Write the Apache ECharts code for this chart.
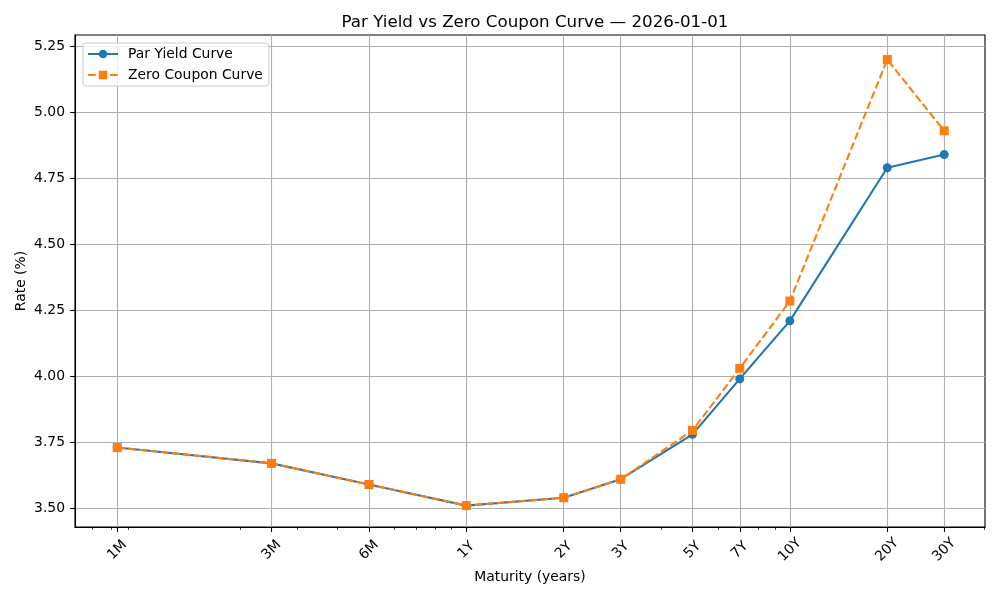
<!DOCTYPE html>
<html>
<head>
<meta charset="utf-8">
<script src="https://cdn.jsdelivr.net/npm/echarts@6/dist/echarts.min.js"></script>
<style>
  html, body { margin: 0; padding: 0; background: #fff; }
  #chart { width: 1000px; height: 600px; }
</style>
</head>
<body>
<div id="chart"></div>
<script>
// maturities in years and their tick labels
var maturities = [1 / 12, 0.25, 0.5, 1, 2, 3, 5, 7, 10, 20, 30];
var tickLabels = ['1M', '3M', '6M', '1Y', '2Y', '3Y', '5Y', '7Y', '10Y', '20Y', '30Y'];
var minorTicks = [0.07, 0.08, 0.09, 0.2, 0.3, 0.4, 0.6, 0.7, 0.8, 0.9, 4, 6, 8, 9, 40];
var yTicks = [3.5, 3.75, 4.0, 4.25, 4.5, 4.75, 5.0, 5.25];

var parYield = [3.73, 3.67, 3.59, 3.51, 3.54, 3.61, 3.78, 3.99, 4.21, 4.79, 4.84];
var zeroCoupon = [3.73, 3.67, 3.59, 3.51, 3.54, 3.61, 3.795, 4.03, 4.285, 5.20, 4.93];

var FONT = 'DejaVu Sans';
var xMin = 0.0617, xMax = 40.1;

function pairs(vals) {
    return maturities.map(function (m, i) { return [m, vals[i]]; });
}

function matLabel(v) {
    for (var i = 0; i < maturities.length; i++) {
        if (Math.abs(maturities[i] - v) / maturities[i] < 1e-6) return tickLabels[i];
    }
    return '';
}

var chartDom = document.getElementById('chart');
var myChart = echarts.init(chartDom, null, { renderer: 'canvas' });
var option = {
    animation: false,
    backgroundColor: '#fff',
    title: {
        text: 'Par Yield vs Zero Coupon Curve \u2014 2026-01-01',
        left: 530,
        top: 9,
        textAlign: 'center',
        textStyle: { fontFamily: FONT, fontSize: 16.7, fontWeight: 'normal', color: '#000' }
    },
    legend: {
        orient: 'vertical',
        left: 83,
        top: 43,
        padding: [4, 6, 4, 4],
        itemWidth: 30,
        itemHeight: 10.6,
        itemGap: 7,
        backgroundColor: 'rgba(255,255,255,0.8)',
        borderColor: '#cccccc',
        borderWidth: 1,
        borderRadius: 3,
        textStyle: { fontFamily: FONT, fontSize: 13.9, color: '#000', padding: [0, 0, 0, 5] },
        data: ['Par Yield Curve', 'Zero Coupon Curve']
    },
    grid: {
        left: 75, right: 15, top: 35, bottom: 73,
        show: true, borderColor: '#000', borderWidth: 1.1,
        containLabel: false
    },
    xAxis: [{
        type: 'log',
        logBase: 10,
        min: xMin,
        max: xMax,
        position: 'bottom',
        name: 'Maturity (years)',
        nameLocation: 'middle',
        nameGap: 43,
        nameMoveOverlap: false,
        nameTextStyle: { fontFamily: FONT, fontSize: 13.9, color: '#000' },
        axisLine: { show: true, lineStyle: { color: '#000', width: 1.1 } },
        axisTick: { show: true, length: 4.9, customValues: maturities, lineStyle: { color: '#000', width: 1.1 } },
        axisLabel: {
            customValues: maturities,
            rotate: 45,
            align: 'center',
            verticalAlign: 'middle',
            margin: 23,
            fontFamily: FONT, fontSize: 13.9, color: '#000',
            formatter: function (v) { return matLabel(v); }
        },
        splitLine: { show: true, lineStyle: { color: '#b0b0b0', width: 1.1 } },
        minorTick: { show: false },
        minorSplitLine: { show: false }
    }, {
        type: 'log',
        logBase: 10,
        min: xMin,
        max: xMax,
        position: 'bottom',
        offset: 0,
        axisLine: { show: false },
        axisTick: { show: true, length: 2.8, customValues: minorTicks, lineStyle: { color: '#000', width: 0.8 } },
        axisLabel: { show: false },
        splitLine: { show: false }
    }],
    yAxis: {
        type: 'value',
        min: 3.429,
        max: 5.293,
        name: 'Rate (%)',
        nameLocation: 'middle',
        nameGap: 47,
        nameMoveOverlap: false,
        nameRotate: 90,
        nameTextStyle: { fontFamily: FONT, fontSize: 13.9, color: '#000' },
        axisLine: { show: true, lineStyle: { color: '#000', width: 1.1 } },
        axisTick: { show: true, length: 4.9, customValues: yTicks, lineStyle: { color: '#000', width: 1.1 } },
        axisLabel: {
            customValues: yTicks,
            margin: 10,
            fontFamily: FONT, fontSize: 13.9, color: '#000',
            formatter: function (v) { return v.toFixed(2); }
        },
        splitLine: { show: true, lineStyle: { color: '#b0b0b0', width: 1.1 } }
    },
    series: [
        {
            name: 'Par Yield Curve',
            type: 'line',
            xAxisIndex: 0,
            data: pairs(parYield),
            symbol: 'circle',
            symbolSize: 9,
            color: '#1f77b4',
            lineStyle: { color: '#1f77b4', width: 2.1 },
            itemStyle: { color: '#1f77b4' }
        },
        {
            name: 'Zero Coupon Curve',
            type: 'line',
            xAxisIndex: 0,
            data: pairs(zeroCoupon),
            symbol: 'rect',
            symbolSize: 9,
            color: '#ff7f0e',
            lineStyle: { color: '#ff7f0e', width: 2.1, type: [7.7, 3.3] },
            itemStyle: { color: '#ff7f0e' }
        }
    ]
};
option && myChart.setOption(option);
</script>
</body>
</html>
